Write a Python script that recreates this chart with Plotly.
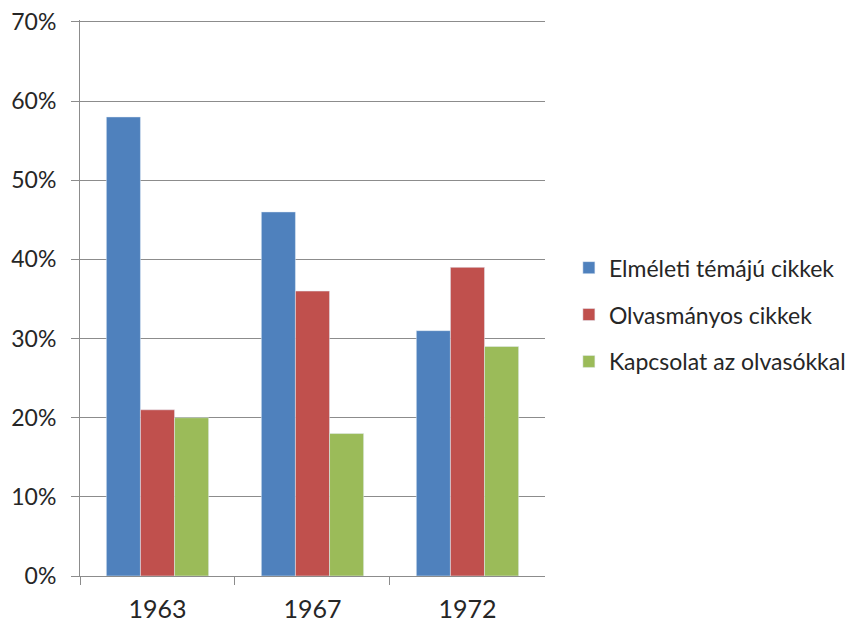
import plotly.graph_objects as go

years = ["1963", "1967", "1972"]
elmeleti = [0.58, 0.46, 0.31]
olvasmanyos = [0.21, 0.36, 0.39]
kapcsolat = [0.20, 0.18, 0.29]

series_names = ["Elméleti témájú cikkek", "Olvasmányos cikkek", "Kapcsolat az olvasókkal"]
colors = ["#4F81BD", "#C0504D", "#9BBB59"]

y_ticks = [0, 0.1, 0.2, 0.3, 0.4, 0.5, 0.6, 0.7]
y_labels = ["0%", "10%", "20%", "30%", "40%", "50%", "60%", "70%"]

font = dict(family="Lato, Open Sans, sans-serif", size=25, color="#262626")

fig = go.Figure()
for i, (name, vals) in enumerate(zip(series_names, [elmeleti, olvasmanyos, kapcsolat])):
    fig.add_trace(go.Bar(
        x=years, y=vals, name=name,
        marker=dict(color=colors[i]),
        legendgroup=str(i),
    ))

# page body adds an 8px offset, so margins are shifted to compensate
fig.update_layout(
    width=856, height=624,
    margin=dict(l=72, r=8, t=12, b=56),
    plot_bgcolor="white", paper_bgcolor="white",
    font=font,
    barmode="group",
    bargap=0.34, bargroupgap=0,
    legend=dict(
        x=0.630, y=0.47, yanchor="middle", xanchor="left",
        font=dict(size=23),
        traceorder="grouped", tracegroupgap=14,
        itemwidth=30,
    ),
)

# range slightly above 70% so the top gridline is not clipped away
fig.update_yaxes(
    range=[0, 0.7025], tickvals=y_ticks, ticktext=y_labels,
    tickfont=dict(size=23), ticklabeloverflow="allow",
    showgrid=True, gridcolor="#8C8C8C", gridwidth=1,
    showline=True, linecolor="#8C8C8C", linewidth=1,
    ticks="outside", ticklen=8, tickcolor="#8C8C8C",
    ticklabelstandoff=10,
    zeroline=False, automargin=False,
)
fig.update_xaxes(
    domain=[0, 0.5992],
    showline=True, linecolor="#8C8C8C", linewidth=1,
    ticks="outside", ticklen=8, tickcolor="#8C8C8C",
    tickson="boundaries", ticklabelstandoff=11,
    automargin=False,
)

fig.write_html("out.html")
